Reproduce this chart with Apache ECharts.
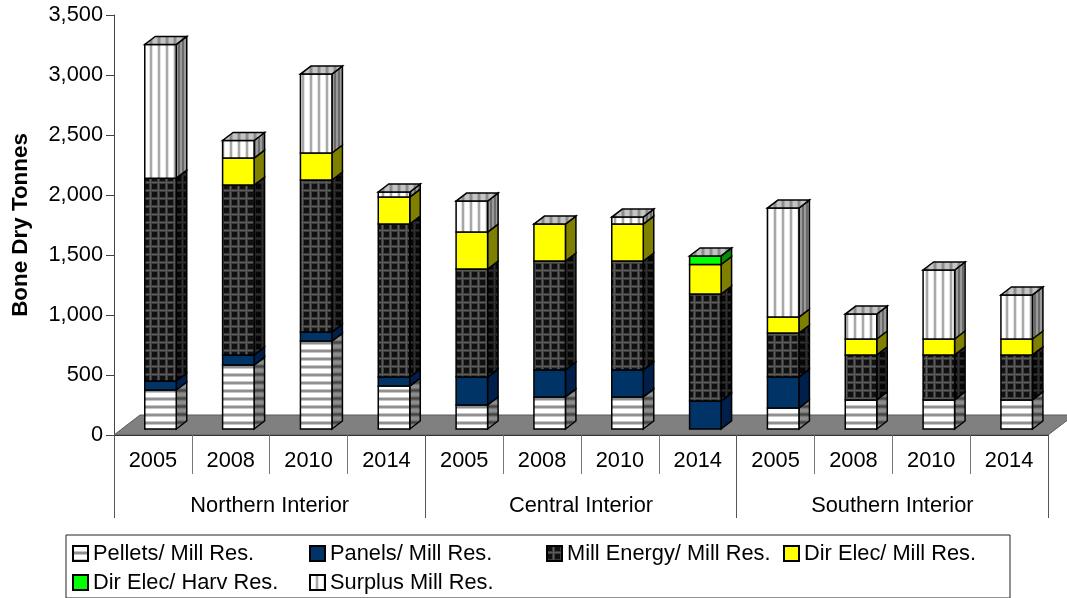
<!DOCTYPE html>
<html><head><meta charset="utf-8">
<style>html,body{margin:0;padding:0;background:#fff}#c{width:1067px;height:598px}</style>
<script src="https://cdn.jsdelivr.net/npm/echarts@6/dist/echarts.min.js"></script>
</head><body><div id="c"></div>
<script>
const years = ['2005','2008','2010','2014','2005','2008','2010','2014','2005','2008','2010','2014'];
const regions = ['Northern Interior','Central Interior','Southern Interior'];
const yTicks = {min:0,max:3500,interval:500};
const pellets  = [325,533,733,358,200,267,267,0,175,242,242,242];
const panels   = [75,83,75,75,233,225,225,233,258,0,0,0];
const energy   = [1690,1417,1267,1275,900,908,908,892,367,375,375,375];
const dirElec  = [0,225,225,225,308,308,308,246,133,133,133,133];
const harvElec = [0,0,0,0,0,0,0,71,0,0,0,0];
const surplus  = [1115,146,658,42,258,0,58,0,908,208,575,367];
const names = ['Pellets/ Mill Res.','Panels/ Mill Res.','Mill Energy/ Mill Res.','Dir Elec/ Mill Res.','Dir Elec/ Harv Res.','Surplus Mill Res.'];

function pat(w,h,draw){const c=document.createElement('canvas');c.width=w;c.height=h;draw(c.getContext('2d'));return {image:c,repeat:'repeat'};}
function hStripes(colors){return pat(1,colors.length,g=>colors.forEach((k,i)=>{g.fillStyle=k;g.fillRect(0,i,1,1);}));}
function vStripes(colors){return pat(colors.length,1,g=>colors.forEach((k,i)=>{g.fillStyle=k;g.fillRect(i,0,1,1);}));}
function grid(bg,line,soft){return pat(8,8,g=>{g.fillStyle=bg;g.fillRect(0,0,8,8);g.fillStyle=soft;g.fillRect(5,0,3,8);g.fillRect(0,5,8,3);g.fillStyle=line;g.fillRect(6,0,1,8);g.fillRect(0,6,8,1);});}
const frontFill = [
  hStripes(['#c8c8c8','#fff','#fff','#fff','#fff','#c8c8c8','#909090','#909090']),
  '#003366',
  grid('#101010','#5c5c5c','#3c3c3c'),
  '#ffff00','#00ff00',
  vStripes(['#e4e4e4','#fff','#fff','#fff','#fff','#e4e4e4','#a8a8a8','#a8a8a8'])
];
const sideFill = [
  hStripes(['#777','#8c8c8c','#8c8c8c','#8c8c8c','#777','#555','#444','#555']),
  '#001f4a',
  grid('#060606','#303030','#1e1e1e'),
  '#808000','#009000',
  vStripes(['#9a9a9a','#9a9a9a','#6a6a6a','#6a6a6a'])
];
const topFill = vStripes(['#a8a8a8','#c4c4c4','#c4c4c4','#c4c4c4','#c4c4c4','#a8a8a8','#8c8c8c','#8c8c8c']);

const layers = [pellets,panels,energy,dirElec,harvElec,surplus];
const BAR = 31.5, OX = 7.6, OY = -6, DX = 10.5, DY = -8;
const stroke = {stroke:'#000',lineWidth:1.5,lineJoin:'miter'};

function renderSeg(li){
  return function(params,api){
    const i=api.value(0), lo=api.value(1), hi=api.value(2);
    if(hi<=lo) return null;
    const cx=api.coord([i,lo])[0]+OX, l=cx-BAR/2, r=cx+BAR/2;
    const yb=api.coord([i,lo])[1]+OY, yt=api.coord([i,hi])[1]+OY;
    const kids=[
      {type:'polygon',shape:{points:[[r,yb],[r+DX,yb+DY],[r+DX,yt+DY],[r,yt]]},style:Object.assign({fill:sideFill[li]},stroke)},
      {type:'rect',shape:{x:l,y:yt,width:BAR,height:yb-yt},style:Object.assign({fill:frontFill[li]},stroke)}
    ];
    if(api.value(3)===1){
      kids.push({type:'polygon',shape:{points:[[l,yt],[r,yt],[r+DX,yt+DY],[l+DX,yt+DY]]},style:Object.assign({fill:topFill},stroke)});
    }
    return {type:'group',children:kids};
  };
}
const totals=years.map((_,i)=>layers.reduce((s,a)=>s+a[i],0));
const barSeries=layers.map((arr,li)=>{
  const data=arr.map((v,i)=>{
    let lo=0;for(let k=0;k<li;k++)lo+=layers[k][i];
    const hi=lo+v;
    return [i,lo,hi,(v>0&&hi===totals[i])?1:0];
  });
  return {name:names[li],type:'custom',xAxisIndex:0,yAxisIndex:0,z:5+li,silent:true,
    renderItem:renderSeg(li),encode:{x:0,y:[1,2]},data,
    itemStyle:{color:frontFill[li],borderColor:'#000',borderWidth:1.5}};
});
const floorSeries={type:'custom',z:2,silent:true,xAxisIndex:0,yAxisIndex:0,data:[[0,0]],encode:{x:0,y:1},
  renderItem(params,api){
    const s=params.coordSys,b=s.y+s.height;
    return {type:'polygon',shape:{points:[[s.x,b],[s.x+s.width,b],[s.x+s.width+26,b-20],[s.x+26,b-20]]},
      style:{fill:'#808080',stroke:'#5a5a5a',lineWidth:1}};
  }};

const chart=echarts.init(document.getElementById('c'),null,{renderer:'canvas'});
const FF='"Liberation Sans",Arial,sans-serif';
const FS=21.8;
chart.setOption({
  animation:false,backgroundColor:'#fff',
  textStyle:{fontFamily:FF,color:'#000'},
  grid:{left:114,right:19,top:15,height:420,outerBoundsMode:'none',containLabel:false},
  legend:{left:66,top:535,width:1000,padding:[4,0,1,6],itemGap:0,itemWidth:15,itemHeight:15,icon:'rect',
    orient:'horizontal',selectedMode:false,backgroundColor:'#fff',borderColor:'#222',borderWidth:1,
    data:names,
    formatter:n=>(n===names[3]?'{b|'+n+'}':'{a|'+n+'}'),
    textStyle:{fontFamily:FF,fontSize:FS,color:'#000',
      rich:{a:{width:216,height:29,lineHeight:29,fontSize:FS,fontFamily:FF,color:'#000'},
            b:{width:206,height:29,lineHeight:29,fontSize:FS,fontFamily:FF,color:'#000'}}}},
  xAxis:[
    {type:'category',data:years,position:'bottom',boundaryGap:true,
      axisLine:{show:true,lineStyle:{color:'#111',width:1}},
      axisTick:{show:true,length:39,interval:0,lineStyle:{color:'#777',width:1}},
      axisLabel:{interval:0,margin:15,fontSize:FS,color:'#000',fontFamily:FF}},
    {type:'category',data:regions,position:'bottom',boundaryGap:true,
      axisLine:{show:false},
      axisTick:{show:true,length:83,interval:0,lineStyle:{color:'#555',width:1}},
      axisLabel:{interval:0,margin:60,fontSize:FS,color:'#000',fontFamily:FF}}
  ],
  yAxis:{type:'value',min:yTicks.min,max:yTicks.max,interval:yTicks.interval,
    name:'Bone Dry Tonnes',nameLocation:'middle',nameGap:82,nameRotate:90,
    nameTextStyle:{fontWeight:'bold',fontSize:22.4,color:'#000',fontFamily:FF},
    axisLine:{show:true,lineStyle:{color:'#444'}},
    axisTick:{show:true,length:8,lineStyle:{color:'#444'}},
    splitLine:{show:false},
    axisLabel:{margin:11,fontSize:FS,color:'#000',fontFamily:FF,padding:[4,0,0,0],formatter:v=>v.toLocaleString('en-US')}},
  series:[floorSeries].concat(barSeries)
});
</script></body></html>
